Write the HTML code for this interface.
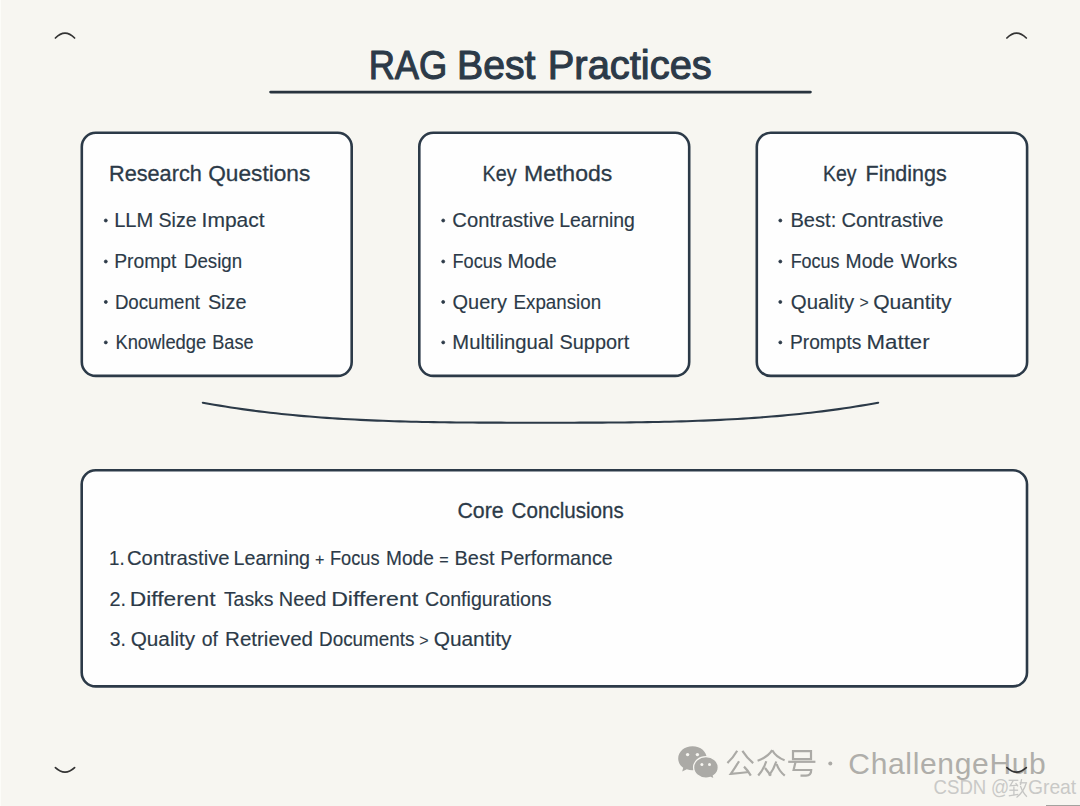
<!DOCTYPE html>
<html><head><meta charset="utf-8"><style>
html,body{margin:0;padding:0;background:#f7f6f1;}
body{width:1080px;height:806px;overflow:hidden;position:relative;font-family:"Liberation Sans",sans-serif;}
svg{position:absolute;left:0;top:0;}
</style></head><body>
<svg width="1080" height="806" viewBox="0 0 1080 806">
<rect x="0" y="0" width="1080" height="806" fill="#f7f6f1"/>
<rect x="0" y="0" width="1" height="806" fill="#fcfcf8"/>
<rect x="1046" y="805" width="34" height="1" fill="#a3a39f"/>
<g fill="none" stroke="#333" stroke-width="1.7" stroke-linecap="round">
<path d="M55.4 38 Q65 28.2 74.6 38"/>
<path d="M1006.9 38 Q1016.5 28.2 1026.3 38"/>
<path d="M55.4 767.6 Q65 776.6 74.6 767.6"/>
</g>
<line x1="270.6" y1="92.1" x2="810.4" y2="92.1" stroke="#28333e" stroke-width="2.8" stroke-linecap="round"/>
<g fill="#fefefe" stroke="#2c3a48" stroke-width="2.6">
<rect x="81.8" y="132.7" width="269.9" height="243.2" rx="14"/>
<rect x="419.3" y="132.7" width="269.9" height="243.2" rx="14"/>
<rect x="756.8" y="132.7" width="270.3" height="243.2" rx="14"/>
<rect x="81.7" y="470.2" width="945.3" height="216.2" rx="14"/>
</g>
<path d="M202.8 402.70 L208.4 403.72 L214.1 404.70 L219.7 405.64 L225.3 406.55 L230.9 407.43 L236.6 408.27 L242.2 409.09 L247.8 409.87 L253.5 410.62 L259.1 411.34 L264.7 412.02 L270.3 412.69 L276.0 413.32 L281.6 413.92 L287.2 414.50 L292.9 415.05 L298.5 415.58 L304.1 416.08 L309.7 416.56 L315.4 417.01 L321.0 417.44 L326.6 417.85 L332.3 418.23 L337.9 418.60 L343.5 418.94 L349.1 419.26 L354.8 419.57 L360.4 419.85 L366.0 420.12 L371.7 420.37 L377.3 420.60 L382.9 420.82 L388.5 421.02 L394.2 421.20 L399.8 421.37 L405.4 421.53 L411.0 421.68 L416.7 421.81 L422.3 421.93 L427.9 422.04 L433.6 422.13 L439.2 422.22 L444.8 422.30 L450.4 422.37 L456.1 422.43 L461.7 422.48 L467.3 422.53 L473.0 422.56 L478.6 422.60 L484.2 422.62 L489.8 422.64 L495.5 422.66 L501.1 422.67 L506.7 422.68 L512.4 422.69 L518.0 422.70 L523.6 422.70 L529.2 422.70 L534.9 422.70 L540.5 422.70 L546.1 422.70 L551.8 422.70 L557.4 422.70 L563.0 422.70 L568.6 422.69 L574.3 422.68 L579.9 422.67 L585.5 422.66 L591.2 422.64 L596.8 422.62 L602.4 422.60 L608.0 422.56 L613.7 422.53 L619.3 422.48 L624.9 422.43 L630.6 422.37 L636.2 422.30 L641.8 422.22 L647.4 422.13 L653.1 422.04 L658.7 421.93 L664.3 421.81 L670.0 421.68 L675.6 421.53 L681.2 421.37 L686.8 421.20 L692.5 421.02 L698.1 420.82 L703.7 420.60 L709.4 420.37 L715.0 420.12 L720.6 419.85 L726.2 419.57 L731.9 419.26 L737.5 418.94 L743.1 418.60 L748.7 418.23 L754.4 417.85 L760.0 417.44 L765.6 417.01 L771.3 416.56 L776.9 416.08 L782.5 415.58 L788.1 415.05 L793.8 414.50 L799.4 413.92 L805.0 413.32 L810.7 412.69 L816.3 412.02 L821.9 411.34 L827.5 410.62 L833.2 409.87 L838.8 409.09 L844.4 408.27 L850.1 407.43 L855.7 406.55 L861.3 405.64 L866.9 404.70 L872.6 403.72 L878.2 402.70" fill="none" stroke="#2c3a48" stroke-width="2.1" stroke-linecap="round"/>
<g fill="#2c3a48" stroke="#2c3a48" stroke-linejoin="round" font-family="Liberation Sans, sans-serif">
<text transform="translate(368.65,78.70) scale(0.9049,1)" font-size="40.12" stroke-width="1.1">RAG</text>
<text transform="translate(457.01,78.70) scale(0.9773,1)" font-size="40.12" stroke-width="1.1">Best</text>
<text transform="translate(547.76,78.70) scale(0.9946,1)" font-size="40.12" stroke-width="1.1">Practices</text>
<text transform="translate(109.01,180.50) scale(0.9951,1)" font-size="21.80" stroke-width="0.3">Research</text>
<text transform="translate(208.24,180.50) scale(1.0400,1)" font-size="21.80" stroke-width="0.3">Questions</text>
<text transform="translate(482.57,180.50) scale(0.9044,1)" font-size="21.80" stroke-width="0.3">Key</text>
<text transform="translate(524.01,180.50) scale(1.0563,1)" font-size="21.80" stroke-width="0.3">Methods</text>
<text transform="translate(822.99,180.50) scale(0.8932,1)" font-size="21.80" stroke-width="0.3">Key</text>
<text transform="translate(865.53,180.50) scale(0.9861,1)" font-size="21.80" stroke-width="0.3">Findings</text>
<text transform="translate(114.17,227.30) scale(1.0213,1)" font-size="19.70" stroke-width="0.15">LLM</text>
<text transform="translate(158.59,227.30) scale(0.9928,1)" font-size="19.70" stroke-width="0.15">Size</text>
<text transform="translate(201.58,227.30) scale(1.0675,1)" font-size="19.70" stroke-width="0.15">Impact</text>
<text transform="translate(114.23,268.30) scale(0.9807,1)" font-size="19.70" stroke-width="0.15">Prompt</text>
<text transform="translate(183.88,268.30) scale(0.9510,1)" font-size="19.70" stroke-width="0.15">Design</text>
<text transform="translate(114.88,308.70) scale(0.9492,1)" font-size="19.70" stroke-width="0.15">Document</text>
<text transform="translate(207.88,308.70) scale(1.0091,1)" font-size="19.70" stroke-width="0.15">Size</text>
<text transform="translate(115.41,349.20) scale(0.9326,1)" font-size="19.70" stroke-width="0.15">Knowledge</text>
<text transform="translate(212.22,349.20) scale(0.9213,1)" font-size="19.70" stroke-width="0.15">Base</text>
<text transform="translate(452.36,227.30) scale(1.0259,1)" font-size="19.70" stroke-width="0.15">Contrastive</text>
<text transform="translate(559.22,227.30) scale(0.9875,1)" font-size="19.70" stroke-width="0.15">Learning</text>
<text transform="translate(452.52,268.30) scale(0.9220,1)" font-size="19.70" stroke-width="0.15">Focus</text>
<text transform="translate(507.40,268.30) scale(1.0015,1)" font-size="19.70" stroke-width="0.15">Mode</text>
<text transform="translate(452.58,308.70) scale(1.0133,1)" font-size="19.70" stroke-width="0.15">Query</text>
<text transform="translate(513.57,308.70) scale(0.9525,1)" font-size="19.70" stroke-width="0.15">Expansion</text>
<text transform="translate(452.36,349.20) scale(1.0274,1)" font-size="19.70" stroke-width="0.15">Multilingual</text>
<text transform="translate(559.48,349.20) scale(1.0105,1)" font-size="19.70" stroke-width="0.15">Support</text>
<text transform="translate(790.47,227.30) scale(1.0210,1)" font-size="19.70" stroke-width="0.15">Best:</text>
<text transform="translate(841.47,227.30) scale(1.0239,1)" font-size="19.70" stroke-width="0.15">Contrastive</text>
<text transform="translate(790.64,268.30) scale(0.9123,1)" font-size="19.70" stroke-width="0.15">Focus</text>
<text transform="translate(845.53,268.30) scale(0.9824,1)" font-size="19.70" stroke-width="0.15">Mode</text>
<text transform="translate(900.78,268.30) scale(1.0219,1)" font-size="19.70" stroke-width="0.15">Works</text>
<text transform="translate(790.76,308.70) scale(1.0370,1)" font-size="19.70" stroke-width="0.15">Quality</text>
<text transform="translate(859.58,308.30) scale(0.8000)" font-size="19.70" stroke-width="0.19">&gt;</text>
<text transform="translate(873.13,308.70) scale(1.0702,1)" font-size="19.70" stroke-width="0.15">Quantity</text>
<text transform="translate(790.04,349.20) scale(0.9731,1)" font-size="19.70" stroke-width="0.15">Prompts</text>
<text transform="translate(866.60,349.20) scale(1.1290,1)" font-size="19.70" stroke-width="0.15">Matter</text>
<text transform="translate(457.38,517.80) scale(0.9469,1)" font-size="22.53" stroke-width="0.3">Core</text>
<text transform="translate(511.62,517.80) scale(0.9138,1)" font-size="22.53" stroke-width="0.3">Conclusions</text>
<text transform="translate(109.07,564.80) scale(0.9293,1)" font-size="20.13" stroke-width="0.15">1.</text>
<text transform="translate(126.96,564.80) scale(1.0087,1)" font-size="20.13" stroke-width="0.15">Contrastive</text>
<text transform="translate(233.50,564.80) scale(0.9780,1)" font-size="20.13" stroke-width="0.15">Learning</text>
<text transform="translate(314.98,564.68) scale(0.8000)" font-size="20.13" stroke-width="0.19">+</text>
<text transform="translate(329.92,564.80) scale(0.9058,1)" font-size="20.13" stroke-width="0.15">Focus</text>
<text transform="translate(386.05,564.80) scale(0.9486,1)" font-size="20.13" stroke-width="0.15">Mode</text>
<text transform="translate(439.18,564.60) scale(0.8000)" font-size="20.13" stroke-width="0.19">=</text>
<text transform="translate(454.58,564.80) scale(0.9906,1)" font-size="20.13" stroke-width="0.15">Best</text>
<text transform="translate(500.30,564.80) scale(0.9756,1)" font-size="20.13" stroke-width="0.15">Performance</text>
<text transform="translate(109.38,605.50) scale(0.9883,1)" font-size="20.13" stroke-width="0.15">2.</text>
<text transform="translate(129.75,605.50) scale(1.1335,1)" font-size="20.13" stroke-width="0.15">Different</text>
<text transform="translate(223.89,605.50) scale(0.9643,1)" font-size="20.13" stroke-width="0.15">Tasks</text>
<text transform="translate(278.78,605.50) scale(0.9882,1)" font-size="20.13" stroke-width="0.15">Need</text>
<text transform="translate(331.16,605.50) scale(1.1500,1)" font-size="20.13" stroke-width="0.15">Different</text>
<text transform="translate(425.09,605.50) scale(0.9754,1)" font-size="20.13" stroke-width="0.15">Configurations</text>
<text transform="translate(109.79,645.90) scale(0.9677,1)" font-size="19.99" stroke-width="0.15">3.</text>
<text transform="translate(130.75,645.90) scale(1.0366,1)" font-size="19.99" stroke-width="0.15">Quality</text>
<text transform="translate(201.80,645.90) scale(0.9710,1)" font-size="19.99" stroke-width="0.15">of</text>
<text transform="translate(225.03,645.90) scale(1.0294,1)" font-size="19.99" stroke-width="0.15">Retrieved</text>
<text transform="translate(319.07,645.90) scale(0.9441,1)" font-size="19.99" stroke-width="0.15">Documents</text>
<text transform="translate(419.21,645.58) scale(0.8000)" font-size="19.99" stroke-width="0.19">&gt;</text>
<text transform="translate(433.64,645.90) scale(1.0451,1)" font-size="19.99" stroke-width="0.15">Quantity</text>
<circle cx="105.8" cy="220.5" r="1.5" stroke-width="0.8"/>
<circle cx="105.8" cy="261.5" r="1.5" stroke-width="0.8"/>
<circle cx="105.8" cy="301.9" r="1.5" stroke-width="0.8"/>
<circle cx="105.8" cy="342.4" r="1.5" stroke-width="0.8"/>
<circle cx="443.2" cy="220.5" r="1.5" stroke-width="0.8"/>
<circle cx="443.2" cy="261.5" r="1.5" stroke-width="0.8"/>
<circle cx="443.2" cy="301.9" r="1.5" stroke-width="0.8"/>
<circle cx="443.2" cy="342.4" r="1.5" stroke-width="0.8"/>
<circle cx="780.3" cy="220.5" r="1.5" stroke-width="0.8"/>
<circle cx="780.3" cy="261.5" r="1.5" stroke-width="0.8"/>
<circle cx="780.3" cy="301.9" r="1.5" stroke-width="0.8"/>
<circle cx="780.3" cy="342.4" r="1.5" stroke-width="0.8"/>
</g>
<g font-family="Liberation Sans, sans-serif"><text x="848.30" y="773.60" font-size="30.00" letter-spacing="0.668" fill="#afaeaa">ChallengeHub</text>
<text transform="translate(933.57,794.40) scale(0.9616,1)" font-size="19.33" fill="#c9c9c7">CSDN</text>
<text transform="translate(991.05,794.40) scale(0.9263,1)" font-size="19.33" fill="#c9c9c7">@</text>
<text transform="translate(1027.93,794.40) scale(0.9995,1)" font-size="19.33" fill="#c9c9c7">Great</text></g>
<g id="wm">
<g fill="#abaaa6">
<path d="M692.5 746.3 C684.3 746.3 678.2 751.8 678.2 758.6 C678.2 762.3 680.1 765.5 683.2 767.7 L682.2 771.6 L686.8 769.3 C688.6 769.9 690.5 770.2 692.5 770.2 C700.7 770.2 706.8 765 706.8 758.6 C706.8 751.8 700.7 746.3 692.5 746.3 Z"/>
<path d="M706 756.6 C699.2 756.6 693.6 761.4 693.6 767.4 C693.6 773.3 699.2 778.1 706 778.1 C707.6 778.1 709.1 777.8 710.5 777.4 L714.3 779.2 L713.4 775.8 C716.3 773.9 718.3 770.8 718.3 767.4 C718.3 761.4 712.8 756.6 706 756.6 Z" stroke="#f7f6f1" stroke-width="1.3"/>
</g>
<g fill="#f7f6f1">
<circle cx="687.6" cy="754.6" r="1.7"/><circle cx="697.4" cy="754.6" r="1.7"/>
<circle cx="701.9" cy="764.4" r="1.5"/><circle cx="709.5" cy="764.4" r="1.5"/>
</g>
<g fill="none" stroke="#abaaa6" stroke-width="2.2" stroke-linecap="butt" stroke-linejoin="miter">
<path d="M737.2 750.8 Q733 758 727.4 763"/>
<path d="M742.4 750.8 Q747 758 753.2 763.2"/>
<path d="M739 761.2 Q735 768 730.8 773.8 Q740 773.2 749 772"/>
<path d="M744 766.6 Q748 770.5 750.8 775.6"/>
<path d="M772.2 750.2 Q768 757 757.6 760.8"/>
<path d="M772.2 750.2 Q776 757 784.6 760.2"/>
<path d="M766.2 761.2 Q764 769 758.2 775.6"/>
<path d="M765 768 Q768 772 771 775.6"/>
<path d="M776.2 761.5 Q774 769 769 775.6"/>
<path d="M776.6 764 Q779 771 784.8 775.6"/>
<path d="M793 751.2 H811 V759.2 H793 Z"/>
<path d="M788.2 761.8 H815.4"/>
<path d="M795.5 762 L793.6 770 H811.2 Q811.2 775.6 806 775.6 H800.5"/>
</g>
<circle cx="830.3" cy="763.6" r="2" fill="#abaaa6"/>
</g>

<g fill="none" stroke="#c6c6c4" stroke-width="1.3" stroke-linecap="butt">
<path d="M1008.6 780.3 H1018.3"/>
<path d="M1013.2 780.6 L1010.2 785.8 L1017.6 785.2"/>
<path d="M1015.6 783.2 L1018 786.4"/>
<path d="M1009.3 790.2 H1018.1"/>
<path d="M1013.9 786.5 V795.2"/>
<path d="M1008.8 795.8 L1018.3 794.4"/>
<path d="M1021.6 779.1 L1020.4 785.2"/>
<path d="M1019.6 782.8 H1027.1"/>
<path d="M1026.2 783.3 Q1023.5 792 1016.5 797.6"/>
<path d="M1020.4 786 Q1023 793 1026.9 796.7"/>
</g>
<g fill="none" stroke="#333" stroke-width="1.7" stroke-linecap="round"><path d="M1006.9 767.6 Q1016.5 776.6 1026.3 767.6"/></g>

</svg>
</body></html>
